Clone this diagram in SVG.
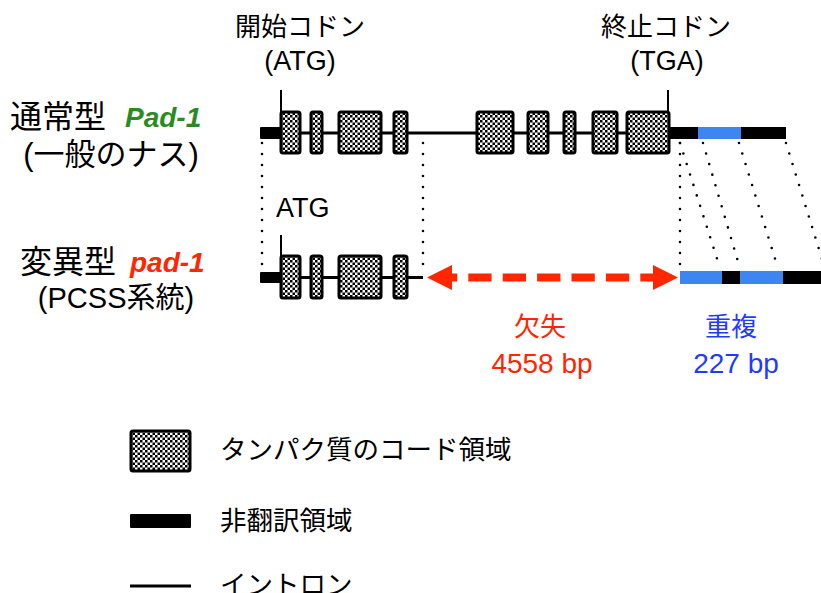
<svg xmlns="http://www.w3.org/2000/svg" width="821" height="593" viewBox="0 0 821 593">
<defs>
<pattern id="chk" width="5" height="5" patternUnits="userSpaceOnUse">
<rect width="5" height="5" fill="#fff"/>
<rect width="2.5" height="2.5" fill="#000"/>
<rect x="2.5" y="2.5" width="2.5" height="2.5" fill="#000"/>
</pattern>
<style>
.t{font-family:"Liberation Sans","Noto Sans CJK JP",sans-serif;fill:#000}
.j{font-family:"Noto Sans CJK JP","Liberation Sans",sans-serif;fill:#000}
.ex{fill:url(#chk);stroke:#000;stroke-width:3}
.utr{fill:#000}
.blue{fill:#3d85f0}
.intron{stroke:#000;stroke-width:3;fill:none}
.tick{stroke:#000;stroke-width:2;fill:none}
.dot{stroke:#000;stroke-width:2.6;stroke-linecap:round;stroke-dasharray:0 11;fill:none}
.red{fill:#ff2600}
.bl{fill:#1f3bff}
</style>
</defs>
<rect width="821" height="593" fill="#fff"/>

<g id="labels-top">
<text class="j" x="300" y="36" font-size="26" text-anchor="middle">開始コドン</text>
<text class="t" x="300" y="70" font-size="27" text-anchor="middle">(ATG)</text>
<text class="j" x="666" y="36" font-size="26" text-anchor="middle">終止コドン</text>
<text class="t" x="667" y="70" font-size="27" text-anchor="middle">(TGA)</text>
</g>

<g id="label-normal">
<text class="j" x="10" y="128" font-size="32">通常型</text>
<text x="125" y="127" font-size="28" font-weight="bold" font-style="italic" font-family="'Liberation Sans',sans-serif" fill="#2a8c1e">Pad-1</text>
<text class="t" x="111" y="165" font-size="31" text-anchor="middle">(一般のナス)</text>
</g>

<g id="label-mutant">
<text class="j" x="20" y="273" font-size="32">変異型</text>
<text x="130" y="272" font-size="28" font-weight="bold" font-style="italic" font-family="'Liberation Sans',sans-serif" fill="#ff2600">pad-1</text>
<text class="t" x="116" y="308" font-size="29" text-anchor="middle">(PCSS系統)</text>
</g>

<g id="connectors">
<line class="dot" x1="262" y1="143" x2="262" y2="268"/>
<line class="dot" x1="423" y1="143" x2="423" y2="268"/>
<line class="dot" x1="680" y1="143" x2="680" y2="268"/>
<line class="dot" x1="680" y1="143" x2="720" y2="268"/>
<line class="dot" x1="703" y1="143" x2="739" y2="265"/>
<line class="dot" x1="739" y1="143" x2="777" y2="265"/>
<line class="dot" x1="786" y1="143" x2="827" y2="275"/>
</g>

<g id="gene-normal">
<rect class="utr" x="260" y="127" width="22" height="12" rx="1"/>
<line class="intron" x1="280" y1="133" x2="628" y2="133"/>
<rect class="utr" x="668" y="127" width="118" height="12"/>
<rect class="blue" x="698" y="127" width="43" height="12"/>
<line class="tick" x1="281" y1="90" x2="281" y2="112"/>
<line class="tick" x1="668" y1="90" x2="668" y2="112"/>
<rect class="ex" x="281" y="112" width="19" height="41" rx="2"/>
<rect class="ex" x="311" y="112" width="11" height="41" rx="2"/>
<rect class="ex" x="339" y="112" width="42" height="41" rx="2"/>
<rect class="ex" x="394" y="112" width="13" height="41" rx="2"/>
<rect class="ex" x="477" y="112" width="36" height="41" rx="2"/>
<rect class="ex" x="528" y="112" width="20" height="41" rx="2"/>
<rect class="ex" x="564" y="112" width="11" height="41" rx="2"/>
<rect class="ex" x="593" y="112" width="24" height="41" rx="2"/>
<rect class="ex" x="627" y="112" width="42" height="41" rx="2"/>
</g>

<g id="gene-mutant">
<text class="t" x="276" y="217" font-size="27">ATG</text>
<rect class="utr" x="260" y="272" width="22" height="11" rx="1"/>
<line class="intron" x1="280" y1="277.5" x2="423" y2="277.5"/>
<line class="tick" x1="281" y1="235" x2="281" y2="256"/>
<rect class="ex" x="281" y="256" width="19" height="42" rx="2"/>
<rect class="ex" x="311" y="256" width="11" height="42" rx="2"/>
<rect class="ex" x="339" y="256" width="42" height="42" rx="2"/>
<rect class="ex" x="394" y="256" width="13" height="42" rx="2"/>
<rect class="blue" x="680" y="271" width="42" height="13"/>
<rect class="utr" x="722" y="271" width="18" height="13"/>
<rect class="blue" x="740" y="271" width="43" height="13"/>
<rect class="utr" x="783" y="271" width="38" height="13"/>
</g>

<g id="deletion">
<line x1="452" y1="277.5" x2="653" y2="277.5" stroke="#ff2600" stroke-width="8" stroke-dasharray="23.3 11.1" stroke-dashoffset="18.1"/>
<polygon class="red" points="427,277.5 452,265 452,290"/>
<polygon class="red" points="678,277.5 653,265 653,290"/>
<text class="j red" x="540" y="336" font-size="26" text-anchor="middle">欠失</text>
<text class="t red" x="542" y="373" font-size="28" text-anchor="middle">4558 bp</text>
</g>

<g id="duplication">
<text class="j bl" x="731" y="336" font-size="26" text-anchor="middle">重複</text>
<text class="t bl" x="736" y="373" font-size="28" text-anchor="middle">227 bp</text>
</g>

<g id="legend-cds">
<rect class="ex" x="131" y="431" width="59" height="40" rx="2"/>
<text class="j" x="220" y="459" font-size="26.5">タンパク質のコード領域</text>
</g>
<g id="legend-utr">
<rect class="utr" x="130" y="514" width="61" height="14" rx="1"/>
<text class="j" x="220" y="530" font-size="26.5">非翻訳領域</text>
</g>
<g id="legend-intron">
<line class="intron" x1="130" y1="586" x2="191" y2="586"/>
<text class="j" x="220" y="594" font-size="26.5">イントロン</text>
</g>
</svg>
